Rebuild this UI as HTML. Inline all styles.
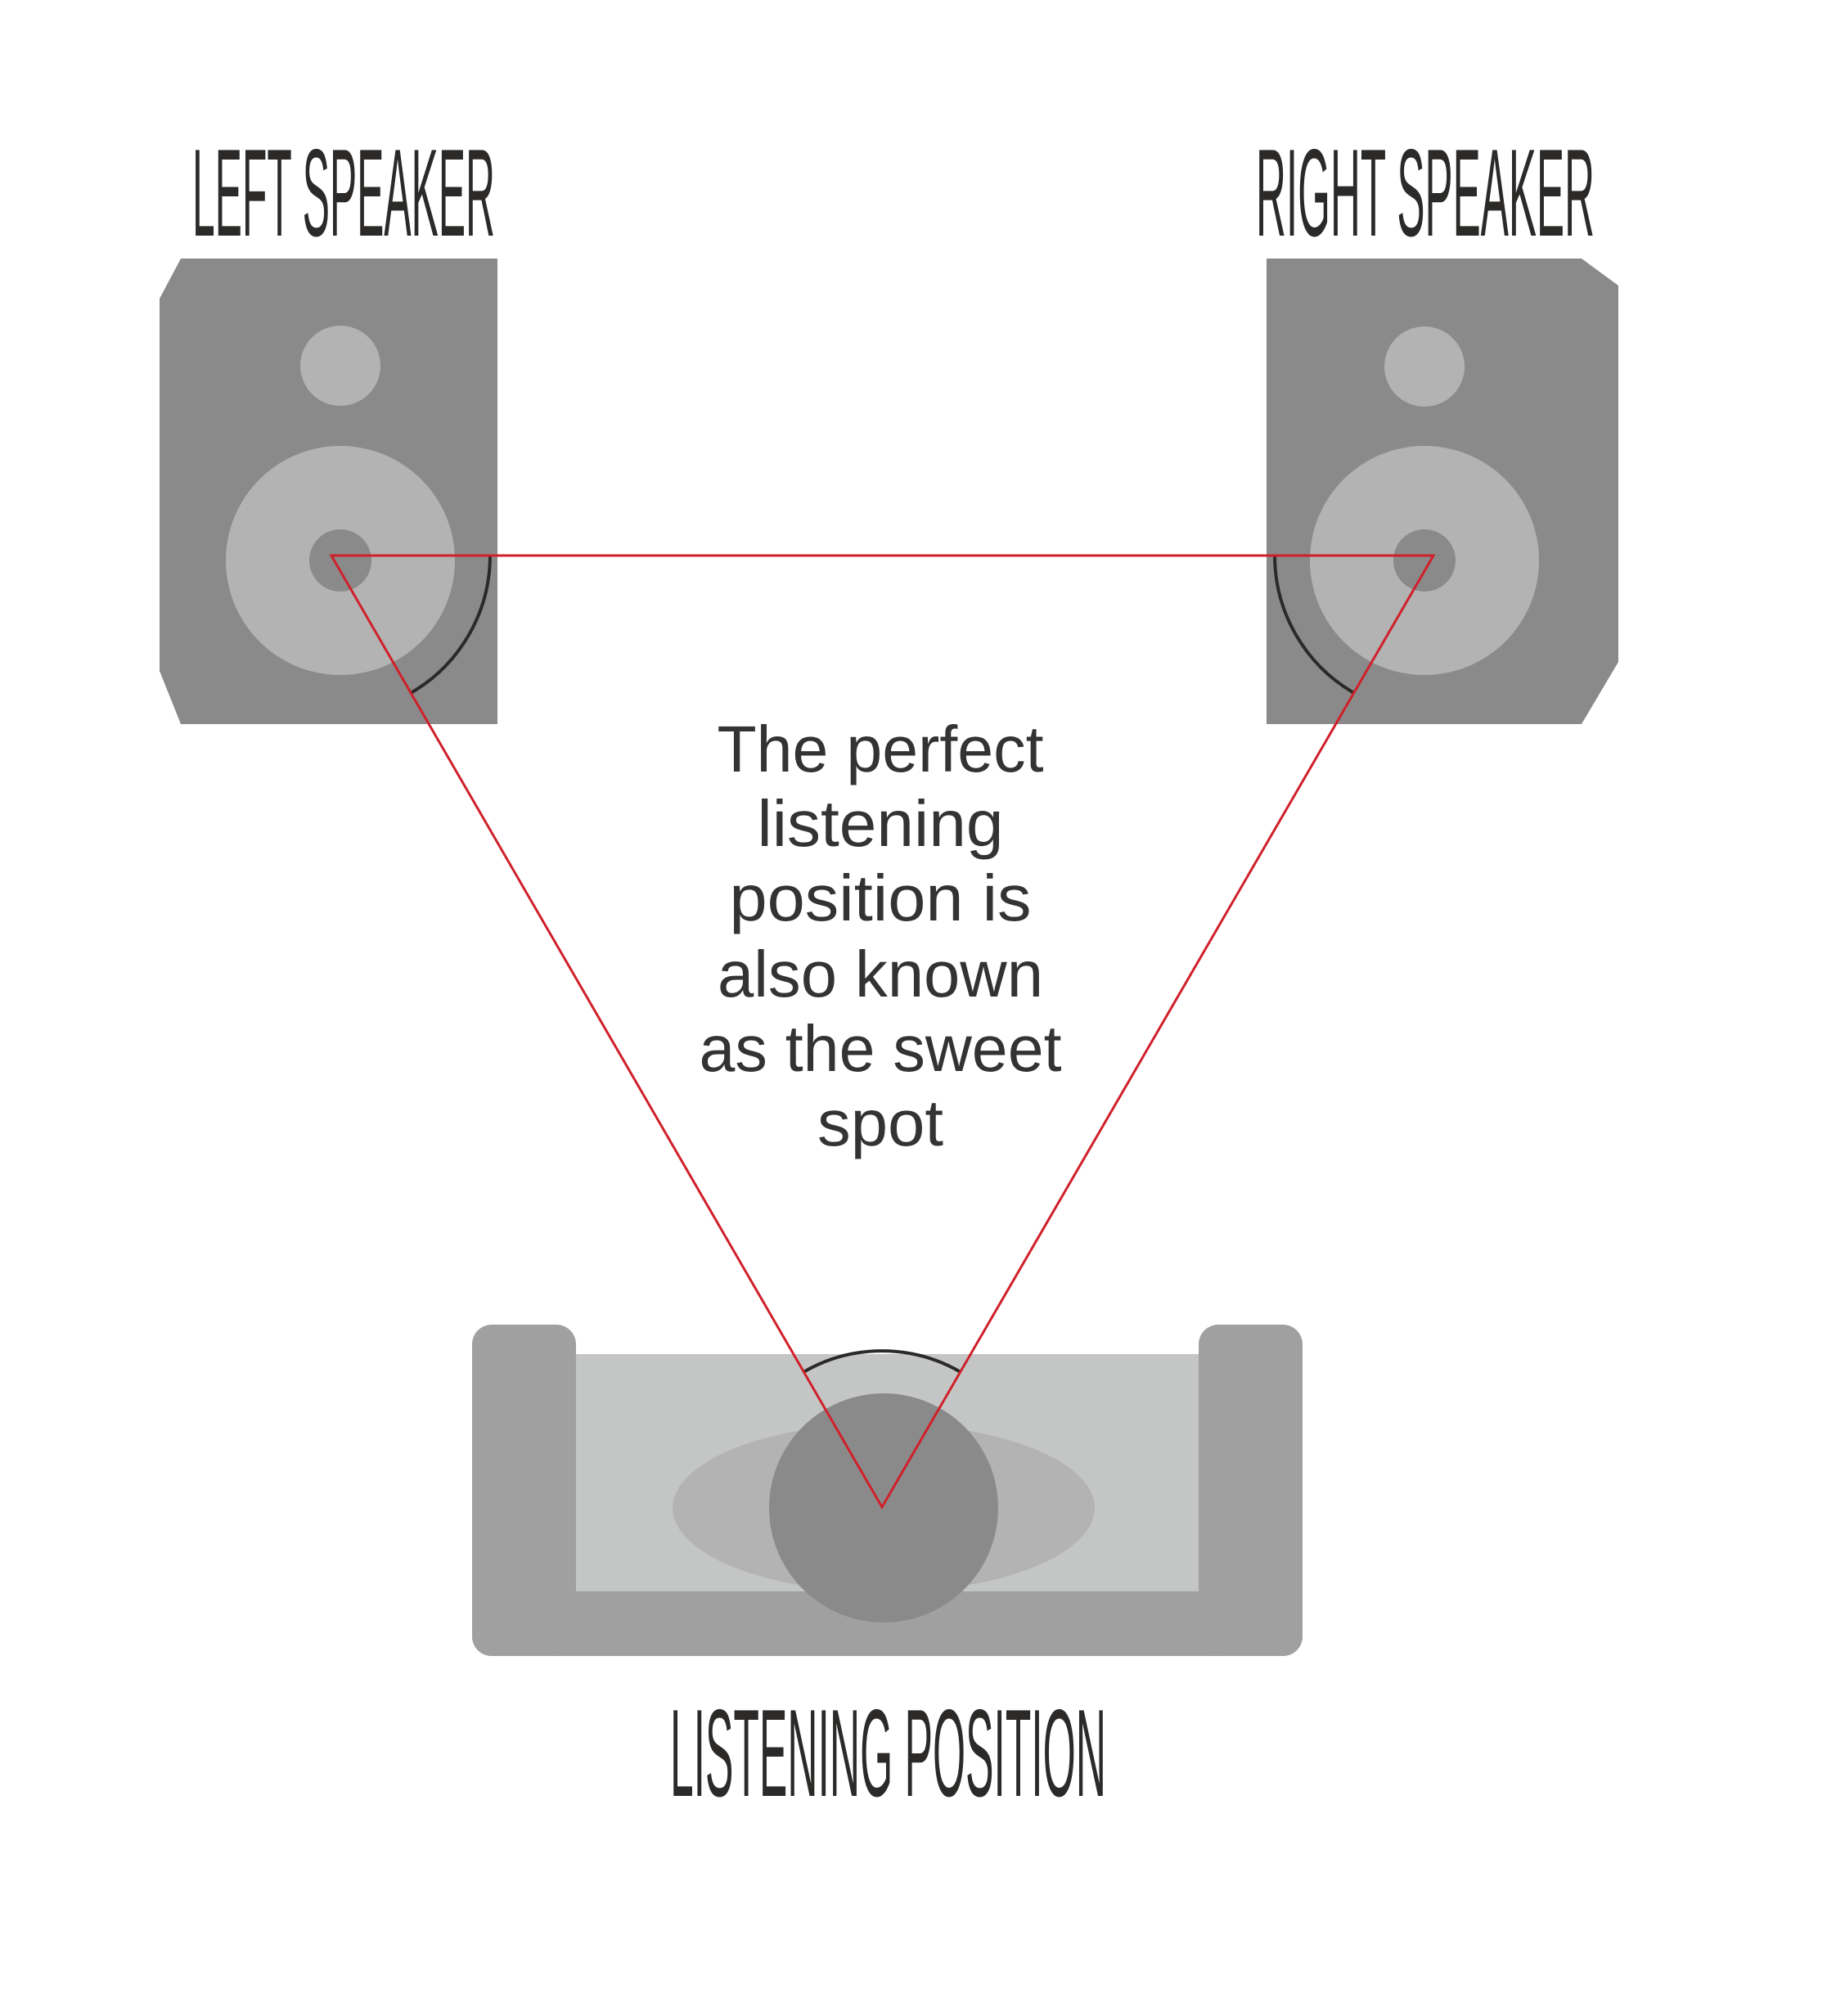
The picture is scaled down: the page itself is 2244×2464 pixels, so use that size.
<!DOCTYPE html>
<html><head><meta charset="utf-8"><style>html,body{margin:0;padding:0;background:#fff}svg{display:block}</style></head>
<body>
<svg width="2244" height="2464" viewBox="0 0 2244 2464" xmlns="http://www.w3.org/2000/svg">
<rect width="2244" height="2464" fill="#fff"/>
<g font-family="'Liberation Sans Narrow','Liberation Sans',sans-serif" fill="#2b2a29" font-size="152">
<text x="235" y="288" textLength="370" lengthAdjust="spacingAndGlyphs">LEFT SPEAKER</text>
<text x="1535" y="288" textLength="414" lengthAdjust="spacingAndGlyphs">RIGHT SPEAKER</text>
<text x="819" y="2195" textLength="533" lengthAdjust="spacingAndGlyphs">LISTENING POSITION</text>
</g>
<polygon points="195,365 221,316 608,316 608,885 221,885 195,820" fill="#8a8a8a"/>
<circle cx="416" cy="447" r="49" fill="#b2b3b2"/>
<circle cx="416" cy="685" r="140" fill="#b2b3b2"/>
<circle cx="416" cy="685" r="38" fill="#8a8a8a"/>
<polygon points="1548,316 1933,316 1978,349 1978,809 1933,885 1548,885" fill="#8a8a8a"/>
<circle cx="1741" cy="448" r="49" fill="#b2b3b2"/>
<circle cx="1741" cy="685" r="140" fill="#b2b3b2"/>
<circle cx="1741" cy="685" r="38" fill="#8a8a8a"/>
<!-- sofa -->
<rect x="577" y="1655" width="1015" height="369" rx="24" fill="#9fa09f"/>
<rect x="577" y="1619" width="127" height="405" rx="24" fill="#9fa09f"/>
<rect x="1465" y="1619" width="127" height="405" rx="24" fill="#9fa09f"/>
<rect x="704" y="1655" width="761" height="290" fill="#c4c6c5"/>
<ellipse cx="1080" cy="1843" rx="258" ry="103" fill="#b2b3b2"/>
<circle cx="1080" cy="1843" r="140" fill="#8a8a8a"/>
<g fill="none" stroke="#2b2a29" stroke-width="4">
<path d="M599,679 A194,194 0 0 1 502,847"/>
<path d="M1558,679 A194,194 0 0 0 1655,847"/>
<path d="M982,1677 A191,191 0 0 1 1174,1677"/>
</g>
<polygon points="405,679 1752,679 1078,1842" fill="none" stroke="#d0202a" stroke-width="3"/>
<g font-family="'Liberation Sans',sans-serif" font-size="80" fill="#333" text-anchor="middle">
<text x="1076" y="943" textLength="399" lengthAdjust="spacingAndGlyphs">The perfect</text>
<text x="1076" y="1034" textLength="301" lengthAdjust="spacingAndGlyphs">listening</text>
<text x="1076" y="1125" textLength="369" lengthAdjust="spacingAndGlyphs">position is</text>
<text x="1076" y="1218" textLength="398" lengthAdjust="spacingAndGlyphs">also known</text>
<text x="1076" y="1309" textLength="443" lengthAdjust="spacingAndGlyphs">as the sweet</text>
<text x="1076" y="1400" textLength="154" lengthAdjust="spacingAndGlyphs">spot</text>
</g>
</svg>
</body></html>
